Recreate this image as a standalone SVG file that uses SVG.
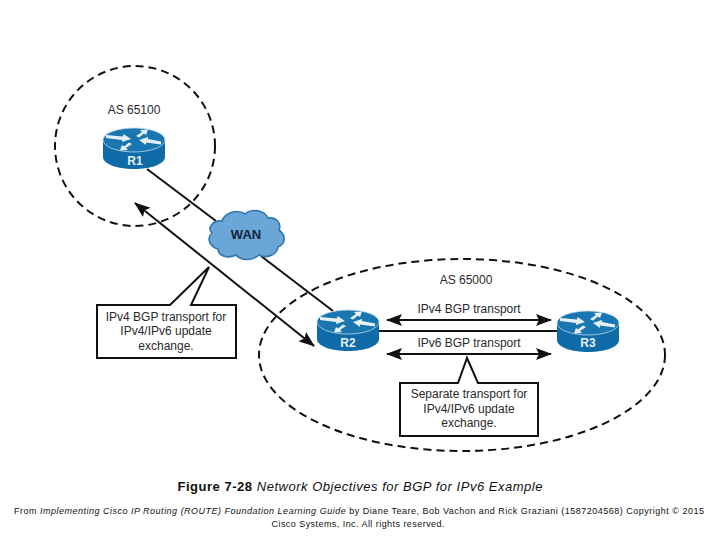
<svg xmlns="http://www.w3.org/2000/svg" xmlns:xlink="http://www.w3.org/1999/xlink" width="720" height="540" viewBox="0 0 720 540">
<style>
text{font-family:"Liberation Sans",Arial,sans-serif;fill:#2a2a2a;font-size:12px;text-anchor:middle}
.as{fill:none;stroke:#111;stroke-width:2;stroke-dasharray:8 5}
.ln{stroke:#111;stroke-width:2;fill:none}
.co{fill:#fff;stroke:#111;stroke-width:2;stroke-linejoin:miter}
.rl{fill:#e8f0f5;font-weight:bold;font-size:12px}
.cap{font-size:13px;fill:#111}
.foot{font-size:9px;fill:#111}
</style>
<defs>
<marker id="ah" markerUnits="userSpaceOnUse" markerWidth="16" markerHeight="12" refX="15" refY="6" orient="auto-start-reverse"><path d="M0 0L16 6L0 12L3 6Z" fill="#111"/></marker>
<symbol id="router" overflow="visible">
<path d="M-31 0V17C-31 24-17 29 0 29S31 24 31 17V0Z" fill="#0f6ba8"/>
<ellipse cx="0" cy="0" rx="31" ry="12" fill="#1a76b0" stroke="#bcd8ea" stroke-width="0.8"/>
<g fill="#e6f1f7">
<path d="M-28 -5L-11 -3.500L-10.500 -6L-3 -1L-12 2L-12 0L-28 -2Z"/>
<path d="M27 4.500L12 2.500L12 5L5 0L14 -3L14 -1L27 1.500Z"/>
<path d="M2 -4L8 -8L6 -10L14 -10.500L12 -5L10 -6.500L5 -2.500Z"/>
<path d="M-2 4L-8 8L-6 10L-14 10.500L-12 5L-10 6.500L-5 2.500Z"/>
</g>
</symbol>
</defs>
<rect width="720" height="540" fill="#fff"/>
<g id="as65100"><circle class="as" cx="135" cy="146" r="80"/><text x="134" y="114">AS 65100</text></g>
<g id="as65000"><ellipse class="as" cx="462" cy="355" rx="203" ry="96"/><text x="466" y="284">AS 65000</text></g>
<g id="connectors">
<path class="ln" d="M147 169L216 221"/>
<path class="ln" d="M261 256L333 311"/>
<path class="ln" d="M378 331H557"/>
<path class="ln" d="M135 203L314 346" marker-start="url(#ah)" marker-end="url(#ah)"/>
<path class="ln" d="M387 320H551" marker-start="url(#ah)" marker-end="url(#ah)"/>
<path class="ln" d="M387 354H551" marker-start="url(#ah)" marker-end="url(#ah)"/>
</g>
<g id="r1"><use xlink:href="#router" href="#router" transform="translate(134 140)"/><text class="rl" x="135" y="165">R1</text></g>
<g id="r2"><use xlink:href="#router" href="#router" transform="translate(348 322)"/><text class="rl" x="348" y="347">R2</text></g>
<g id="r3"><use xlink:href="#router" href="#router" transform="translate(588 323)"/><text class="rl" x="588" y="347">R3</text></g>
<g id="wan">
<path d="M222 221C225 212 238 209 245 214C252 208 264 210 268 218C276 217 282 223 279 230C286 235 286 244 278 247C277 255 266 259 259 255C252 261 241 261 236 255C228 259 218 256 218 249C210 247 206 238 212 233C207 228 213 220 222 221Z" fill="#6ba6d8" stroke="#2f77ad" stroke-width="1.6"/>
<text x="246" y="239" style="font-weight:bold;font-size:13px;fill:#12243c">WAN</text>
</g>
<g id="callout1">
<path class="co" d="M97 305H170L209 267L191 305H236V358H97Z"/>
<text x="166" y="321">IPv4 BGP transport for</text>
<text x="166" y="335">IPv4/IPv6 update</text>
<text x="166" y="350">exchange.</text>
</g>
<g id="callout2">
<path class="co" d="M400 383H458L467 358L478 383H538V436H400Z"/>
<text x="469" y="398">Separate transport for</text>
<text x="469" y="413">IPv4/IPv6 update</text>
<text x="469" y="427">exchange.</text>
</g>
<text x="469" y="313">IPv4 BGP transport</text>
<text x="469" y="347">IPv6 BGP transport</text>
<g id="caption">
<text class="cap" x="360" y="491" textLength="365" lengthAdjust="spacing"><tspan font-weight="bold">Figure 7-28 </tspan><tspan font-style="italic">Network Objectives for BGP for IPv6 Example</tspan></text>
<text class="foot" x="359" y="514" textLength="690" lengthAdjust="spacing">From <tspan font-style="italic">Implementing Cisco IP Routing (ROUTE) Foundation Learning Guide</tspan> by Diane Teare, Bob Vachon and Rick Graziani (1587204568) Copyright © 2015</text>
<text class="foot" x="358" y="527" textLength="173" lengthAdjust="spacing">Cisco Systems, Inc. All rights reserved.</text>
</g>
</svg>
